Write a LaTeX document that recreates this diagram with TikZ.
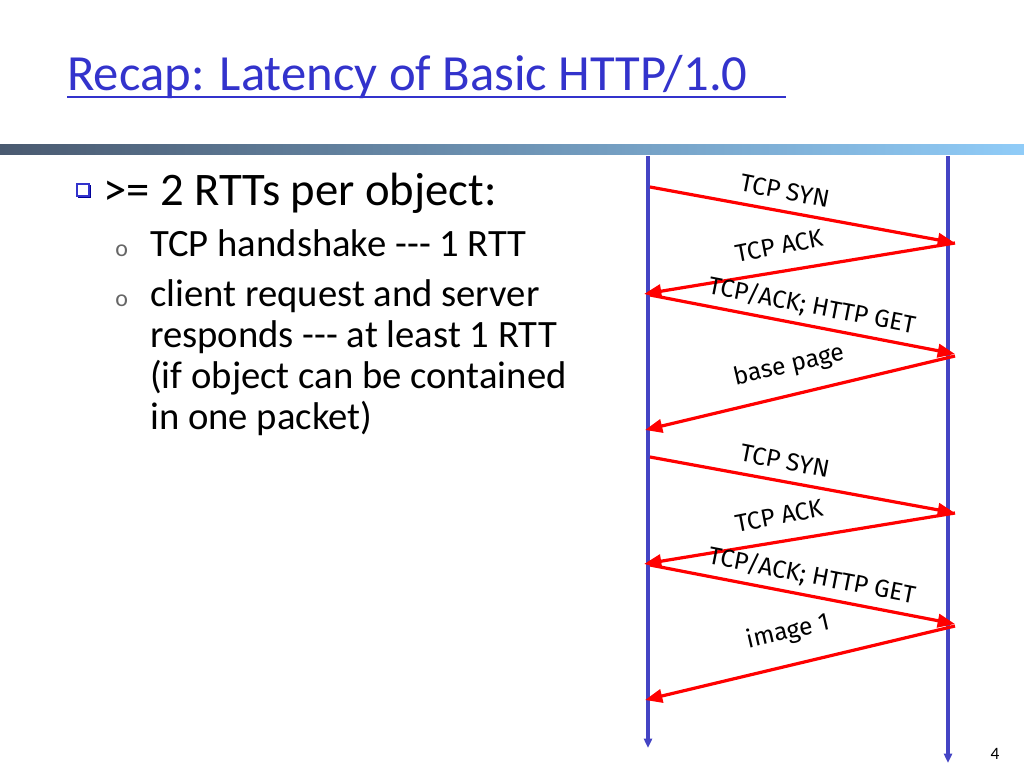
\documentclass[tikz,border=0pt]{standalone}
\usepackage{fontspec}
\setmainfont{Carlito}
\newfontfamily\lblfont{Fira Sans}
\usetikzlibrary{arrows.meta}
\definecolor{tblue}{HTML}{3333CC}
\definecolor{lblue}{HTML}{4444C4}
\definecolor{bardark}{HTML}{4A5A70}
\definecolor{barlight}{HTML}{90CCF8}
\begin{document}
\begin{tikzpicture}[x=0.75pt,y=-0.75pt,
  life/.style={draw=lblue,line width=2.6pt,-{Triangle[length=7pt,width=6pt]}},
  msg/.style={draw=red,line width=2.4pt,-{Triangle[length=13pt,width=10pt]}},
  lbl/.style={font=\lblfont\fontsize{18.5}{18.5}\selectfont,inner sep=0pt},
  body/.style={anchor=base west,inner sep=0pt,font=\fontsize{29}{30}\selectfont}]
\useasboundingbox (0,0) rectangle (1024,768);
\shade[left color=bardark,right color=barlight] (0,144) rectangle (1024,154);
\node[anchor=base west,inner sep=0pt,text=tblue,font=\fontsize{38}{40}\selectfont] (title) at (67,90) {Recap: Latency of Basic HTTP/1.0};
\draw[tblue,line width=0.8pt] (67,97) -- (786,97);
\fill[blue!60!black] (78,185) rectangle (91,198);
\node[draw=tblue,fill=white,line width=1pt,minimum size=9pt,inner sep=0pt] (b0) at (83,190) {};
\node[body,font=\fontsize{35}{36}\selectfont] (t0) at (103,205) {>= 2 RTTs per object:};
\node[body,text=gray!80!black,font=\fontsize{18}{18}\selectfont] (o1) at (115,256) {o};
\node[body] (t1) at (150,256) {TCP handshake {-}{-}{-} 1 RTT};
\node[body,text=gray!80!black,font=\fontsize{18}{18}\selectfont] (o2) at (115,306) {o};
\node[body] (t2) at (150,306) {client request and server};
\node[body] (t3) at (150,347) {responds {-}{-}{-} at least 1 RTT};
\node[body] (t4) at (150,388) {(if object can be contained};
\node[body] (t5) at (150,429) {in one packet)};
\node[anchor=base,inner sep=0pt,font=\fontsize{13}{13}\selectfont] (pg) at (995,759) {4};
\coordinate (ct) at (648,156); \coordinate (cb) at (648,748);
\coordinate (st) at (948,156); \coordinate (sb) at (948,763);
\draw[life] (ct) -- (cb);
\draw[life] (st) -- (sb);
\foreach \d/\n in {0/a,270/b}{
  \coordinate (\n1) at (650,187+\d); \coordinate (\n2) at (955,243+\d);
  \coordinate (\n3) at (644,294+\d); \coordinate (\n4) at (650,295+\d);
  \coordinate (\n5) at (955,354+\d); \coordinate (\n6) at (955,356+\d);
  \coordinate (\n7) at (645,430+\d);
  \draw[msg] (\n1) -- (\n2);
  \draw[msg] (\n2) -- (\n3);
  \draw[msg] (\n4) -- (\n5);
  \draw[msg] (\n6) -- (\n7);
  \node[lbl,rotate=-11] (\n s) at (785,191+\d) {TCP SYN};
  \node[lbl,rotate=11] (\n k) at (779,246+\d) {TCP ACK};
  \node[lbl,rotate=-11] (\n g) at (812,306+\d) {TCP/ACK; HTTP GET};
}
\node[lbl,rotate=13] (bp) at (789,366) {base page};
\node[lbl,rotate=13] (im) at (788,632) {image 1};
\end{tikzpicture}
\end{document}
